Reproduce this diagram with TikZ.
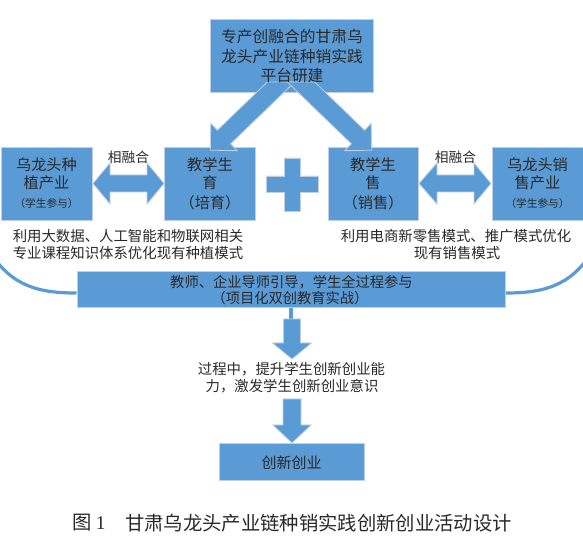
\documentclass[tikz,border=0pt]{standalone}
\usepackage{fontspec}
\usetikzlibrary{calc}
\newfontfamily\cjk{Noto Sans CJK SC}
\newfontfamily\latserif{Liberation Serif}
\definecolor{boxblue}{RGB}{91,155,213}
\definecolor{edgegray}{RGB}{192,207,226}
\definecolor{txt}{RGB}{40,40,40}
\begin{document}
\begin{tikzpicture}[x=0.75pt,y=-0.75pt,
  box/.style={draw=edgegray,line width=0.75pt,fill=boxblue,inner sep=0pt},
  blk/.style={draw=edgegray,line width=0.6pt,fill=boxblue,line join=miter},
  arcline/.style={draw=boxblue,line width=2.4pt},
  stubline/.style={draw=boxblue,line width=2.6pt},
  lbl/.style={inner sep=0pt,text=txt,font={\cjk\fontsize{#1}{#1}\selectfont}},
]
\useasboundingbox (0,0) rectangle (583,549);

% background arc
\node[box,minimum width=321pt,minimum height=27pt] (bar) at (291,290) {};
\draw[arcline] (-10,252) .. controls (12,287) and (40,293) .. ($(bar.west)+(0,3)$);
\draw[arcline] ($(bar.east)+(0,3)$) .. controls (542,293) and (570,287) .. (592,252);
\node[box,minimum width=321pt,minimum height=27pt] (bar) at (291,290) {};

% boxes
\node[box,minimum width=122.25pt,minimum height=54.75pt] (top) at (291.5,56.5) {};
\node[box,minimum width=68.25pt,minimum height=54.75pt] (b1) at (46.5,184.5) {};
\node[box,minimum width=68.25pt,minimum height=54.75pt] (b2) at (209.5,184.5) {};
\node[box,minimum width=67.5pt,minimum height=54.75pt] (b3) at (373,184.5) {};
\node[box,minimum width=68.25pt,minimum height=54.75pt] (b4) at (537.5,184.5) {};
\node[box,minimum width=108.75pt,minimum height=27.75pt] (fin) at (291.5,462.5) {};

% diagonal arrows from top box
\draw[blk] (267.3,82) -- (217.4,130.2) -- (210.8,123.3) -- (210.3,150.2) -- (237.2,150.7) -- (230.6,143.8) -- (294.7,82) -- cycle;
\draw[blk] (314.7,82) -- (364.6,130.2) -- (371.2,123.3) -- (371.7,150.2) -- (344.8,150.7) -- (351.4,143.8) -- (287.3,82) -- cycle;

% double arrows
\draw[blk] (93,183.5) -- (110,163) -- (110,175) -- (147,175) -- (147,163) -- (164,183.5) -- (147,204) -- (147,192) -- (110,192) -- (110,204) -- cycle;
\draw[blk] (419,183.5) -- (437,163) -- (437,175) -- (474,175) -- (474,163) -- (491,183.5) -- (474,204) -- (474,192) -- (437,192) -- (437,204) -- cycle;

% plus sign
\draw[blk] (284,158) -- (300,158) -- (300,176) -- (318,176) -- (318,192) -- (300,192) -- (300,211) -- (284,211) -- (284,192) -- (266,192) -- (266,176) -- (284,176) -- cycle;

% stub and down arrows
\coordinate (a1) at (291,320);
\draw[stubline] (bar.south) -- (a1);
\draw[blk] (283.5,319) -- (300.5,319) -- (300.5,343) -- (311.5,343) -- (292,359) -- (272.5,343) -- (283.5,343) -- cycle;
\draw[blk] (283,399) -- (301,399) -- (301,425) -- (311,425) -- (292,443) -- (273,425) -- (283,425) -- cycle;

% texts
\node[lbl=11.8] (t1) at (292,37) {专产创融合的甘肃乌};
\node[lbl=11.8] (t2) at (292,57) {龙头产业链种销实践};
\node[lbl=11.8] (t3) at (292,76) {平台研建};

\node[lbl=11.4] (b1a) at (46.5,165) {乌龙头种};
\node[lbl=11.4] (b1b) at (46.5,183) {植产业};
\node[lbl=8] (b1c) at (46.5,203) {（学生参与）};

\node[lbl=11.4] (b2a) at (210,165) {教学生};
\node[lbl=11.4] (b2b) at (210,183) {育};
\node[lbl=11.4] (b2c) at (210,203) {（培育）};

\node[lbl=11.4] (b3a) at (373,165) {教学生};
\node[lbl=11.4] (b3b) at (373,183) {售};
\node[lbl=11.4] (b3c) at (373,203) {（销售）};

\node[lbl=11.4] (b4a) at (537.5,165) {乌龙头销};
\node[lbl=11.4] (b4b) at (537.5,183) {售产业};
\node[lbl=8] (b4c) at (537.5,203) {（学生参与）};

\node[lbl=10.3] (m1) at (128.5,157) {相融合};
\node[lbl=10.3] (m2) at (455.5,157) {相融合};

\node[lbl=10.8] (d1) at (128,236) {利用大数据、人工智能和物联网相关};
\node[lbl=10.8] (d2) at (128,253) {专业课程知识体系优化现有种植模式};
\node[lbl=10.8] (d3) at (456,236) {利用电商新零售模式、推广模式优化};
\node[lbl=10.8] (d4) at (457,253) {现有销售模式};

\node[lbl=10.7] (r1) at (291.5,282) {教师、企业导师引导，学生全过程参与};
\node[lbl=10.7] (r2) at (290,298) {（项目化双创教育实战）};

\node[lbl=10.8] (p1) at (291.5,369) {过程中，提升学生创新创业能};
\node[lbl=10.8] (p2) at (292,386) {力，激发学生创新创业意识};

\node[lbl=11.25] (f1) at (291.5,463) {创新创业};

\node[lbl=14.5,anchor=west] (c1) at (72,523) {图 {\latserif 1}};
\node[lbl=14.5,anchor=west] (c2) at (125,523) {甘肃乌龙头产业链种销实践创新创业活动设计};
\end{tikzpicture}
\end{document}
